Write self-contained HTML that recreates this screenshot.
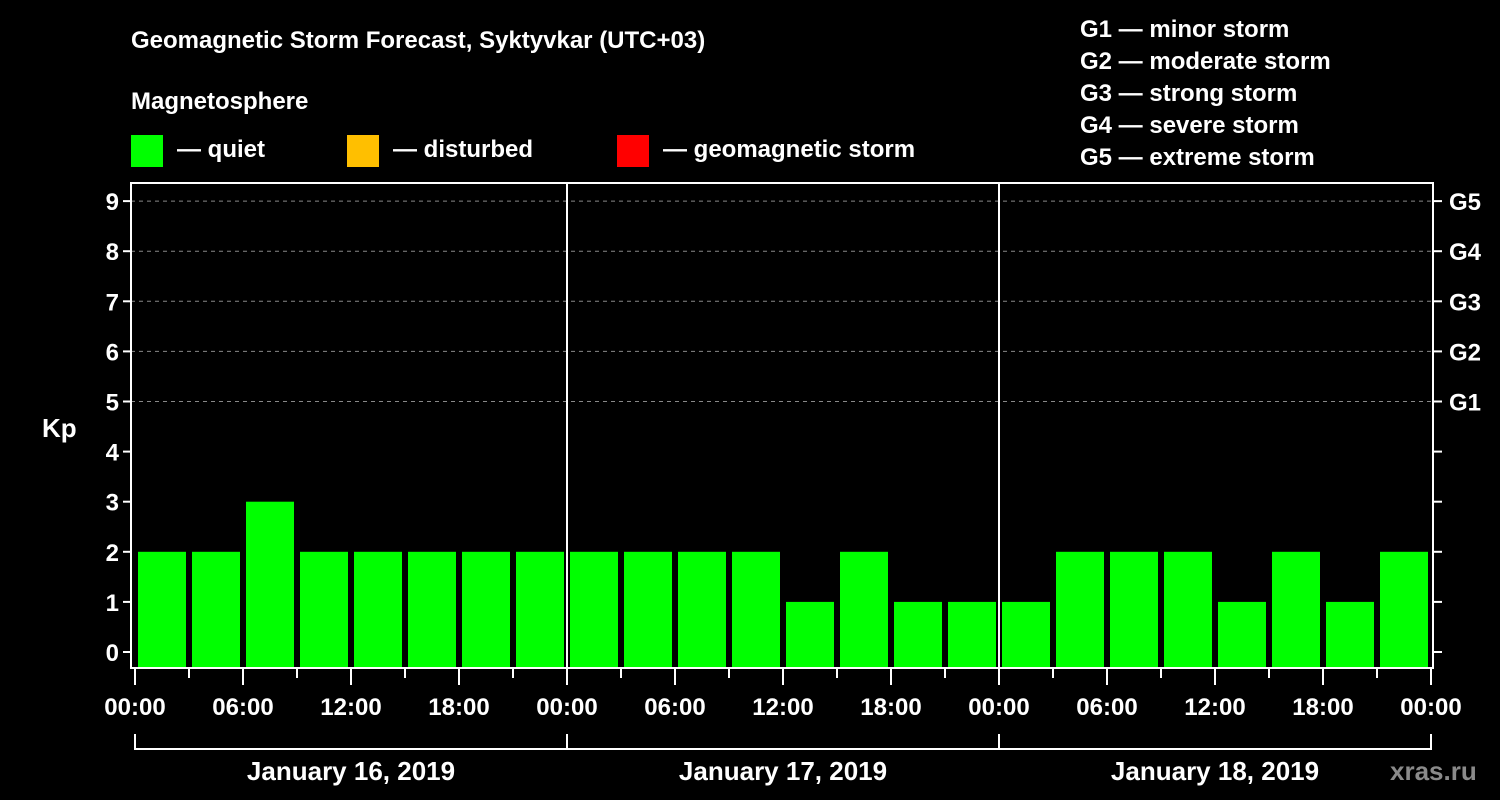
<!DOCTYPE html>
<html><head><meta charset="utf-8"><style>
html,body{margin:0;padding:0;background:#000;width:1500px;height:800px;overflow:hidden}
svg{display:block;font-family:"Liberation Sans",Arial,sans-serif;font-weight:bold;fill:#fff}
</style></head><body>
<svg id="chart" width="1500" height="800">
<text x="131" y="48" font-size="24">Geomagnetic Storm Forecast, Syktyvkar (UTC+03)</text>
<text x="131" y="109" font-size="24">Magnetosphere</text>
<g>
<rect x="131" y="135" width="32" height="32" fill="#00ff00"/>
<text x="177" y="157" font-size="24">— quiet</text>
<rect x="347" y="135" width="32" height="32" fill="#ffbf00"/>
<text x="393" y="157" font-size="24">— disturbed</text>
<rect x="617" y="135" width="32" height="32" fill="#ff0000"/>
<text x="663" y="157" font-size="24">— geomagnetic storm</text>
</g>
<g font-size="24">
<text x="1080" y="37">G1 — minor storm</text>
<text x="1080" y="69">G2 — moderate storm</text>
<text x="1080" y="101">G3 — strong storm</text>
<text x="1080" y="133">G4 — severe storm</text>
<text x="1080" y="165">G5 — extreme storm</text>
</g>
<text x="42" y="437" font-size="26">Kp</text>
<text x="1390" y="780" font-size="26" fill="#888" style="fill:#8a8a8a">xras.ru</text>
<g id="grid"></g><g id="bars"></g><g id="axes"></g>
</svg>
<script>
const kpValues = [2,2,3,2,2,2,2,2, 2,2,2,2,1,2,1,1, 1,2,2,2,1,2,1,2];
const yTicks = [0,1,2,3,4,5,6,7,8,9];
const gLabels = ["","","","","","G1","G2","G3","G4","G5"];
const hourLabels = ["00:00","06:00","12:00","18:00"];
const dayLabels = ["January 16, 2019","January 17, 2019","January 18, 2019"];

const NS="http://www.w3.org/2000/svg";
const x0=135, slot=54, yZero=652, unit=50.1, plotL=131, plotR=1433, plotT=183, plotB=668;
const yS=v=>yZero-v*unit;
const xS=i=>x0+i*slot;
function mk(tag,attrs,parent,text){const e=document.createElementNS(NS,tag);for(const k in attrs)e.setAttribute(k,attrs[k]);if(text!==undefined)e.textContent=text;parent.appendChild(e);return e;}
const grid=document.getElementById('grid'),bars=document.getElementById('bars'),axes=document.getElementById('axes');

yTicks.forEach((v,i)=>{
  if(v>=5){const l=mk('line',{x1:plotL,x2:plotR,y1:yS(v),y2:yS(v),stroke:'#888','stroke-dasharray':'4,4','stroke-width':1},grid);
  
  }
  const t=mk('line',{x1:plotL-8,x2:plotL,y1:yS(v),y2:yS(v),stroke:'#fff','stroke-width':2},axes);
  
  
  const lb=mk('text',{x:plotL-12,y:yS(v)+9,'font-size':24,'text-anchor':'end'},axes,String(v));
  
  
  const rt=mk('line',{x1:plotR,x2:plotR+9,y1:yS(v),y2:yS(v),stroke:'#fff','stroke-width':2},axes);
  
  
  if(gLabels[i]){const g=mk('text',{x:plotR+16,y:yS(v)+9,'font-size':24},axes,gLabels[i]);
  
  }
});

kpValues.forEach((v,i)=>{
  const c=v>=5?'#ff0000':(v>=4?'#ffbf00':'#00ff00');
  const r=mk('rect',{x:xS(i)+3,y:yS(v),width:48,height:plotB-yS(v),fill:c},bars);
  
  
});

const frame=mk('rect',{x:plotL,y:plotT,width:plotR-plotL,height:plotB-plotT,fill:'none',stroke:'#fff','stroke-width':2},axes);


for(let d=1;d<dayLabels.length;d++){
  const l=mk('line',{x1:xS(d*8),x2:xS(d*8),y1:plotT,y2:plotB,stroke:'#fff','stroke-width':2},axes);
  
  
}
for(let i=0;i<=kpValues.length;i++){
  const major=i%2===0;
  const t=mk('line',{x1:xS(i),x2:xS(i),y1:plotB,y2:plotB+(major?17:10),stroke:'#fff','stroke-width':2},axes);
  
  
  if(major){const lb=mk('text',{x:xS(i),y:715,'font-size':24,'text-anchor':'middle'},axes,hourLabels[(i/2)%4]);
  
  }
}
const br=mk('line',{x1:xS(0),x2:xS(24),y1:749,y2:749,stroke:'#fff','stroke-width':2},axes);


for(let d=0;d<=dayLabels.length;d++){
  const v=mk('line',{x1:xS(d*8),x2:xS(d*8),y1:734,y2:750,stroke:'#fff','stroke-width':2},axes);
  
  
}
dayLabels.forEach((s,d)=>{
  const t=mk('text',{x:xS(d*8+4),y:780,'font-size':26,'text-anchor':'middle'},axes,s);
  
  
});
</script>
</body></html>
